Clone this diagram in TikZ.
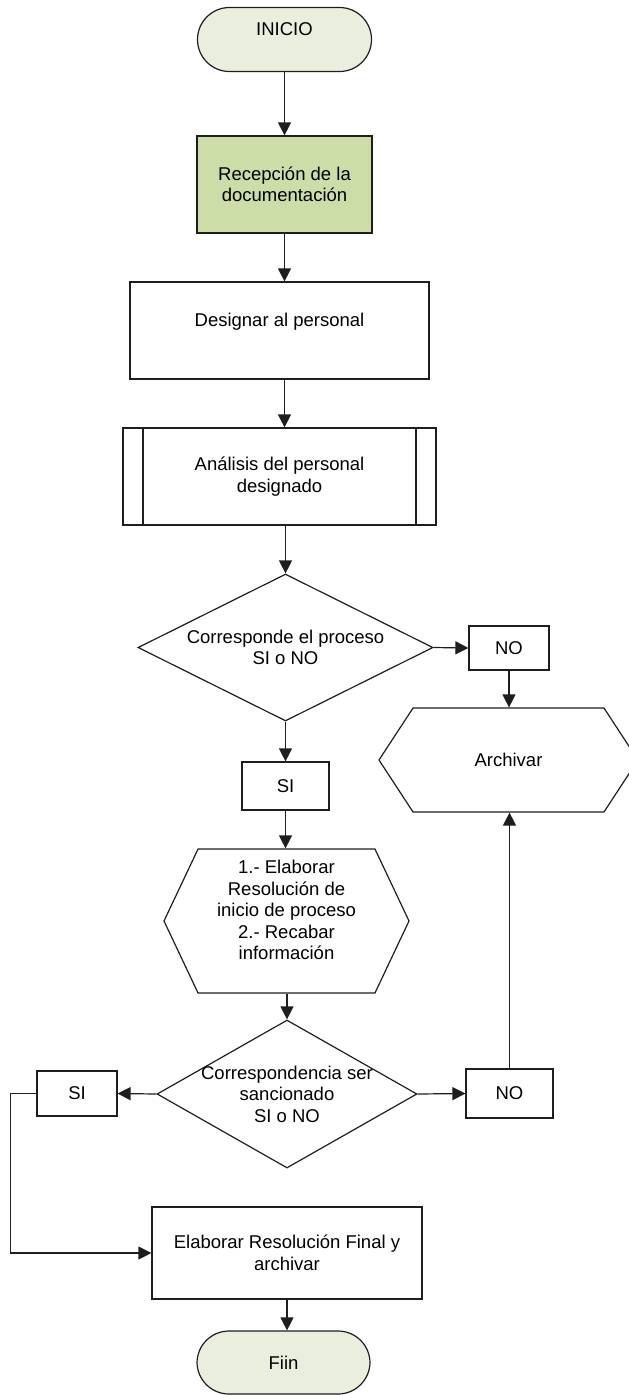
\documentclass[tikz,border=0pt]{standalone}
\usepackage{fontspec}
\setmainfont{Liberation Sans}
\usetikzlibrary{arrows.meta,shapes.geometric,shapes.symbols,positioning,calc}
\definecolor{TermFill}{RGB}{234,238,221}
\definecolor{StepGreen}{RGB}{205,221,168}
\definecolor{LineGray}{RGB}{30,30,30}

\begin{document}
\begin{tikzpicture}[x=1pt,y=-1pt,
    every node/.style={font=\fontsize{18.5}{21.5}\selectfont,align=center,
                       line width=1.2pt,draw=LineGray,inner sep=0pt},
    term/.style={rectangle,fill=TermFill,rounded corners=32pt,
                 minimum width=174pt,minimum height=64pt},
    box/.style={rectangle},
    subproc/.style={box,path picture={
        \draw[line width=1.2pt,LineGray]
          ([xshift=20pt]path picture bounding box.north west) --
          ([xshift=20pt]path picture bounding box.south west)
          ([xshift=-20pt]path picture bounding box.north east) --
          ([xshift=-20pt]path picture bounding box.south east);}},
    decision/.style={diamond,aspect=2},
    hexa/.style={signal,signal to=west and east},
    answer/.style={rectangle,minimum width=82pt,minimum height=46pt},
    arr/.style={-{Triangle[length=13pt,width=13pt]},line width=1.2pt,LineGray}
  ]
    \useasboundingbox (0,0) rectangle (629,1395);
    \clip (0,0) rectangle (629,1395);

    \node[term] (inicio) at (284.5,39.5) {INICIO\\\mbox{}};
    \node[box,fill=StepGreen,minimum width=175pt,minimum height=97pt] (recep) at (284.5,184.5)
      {Recepción de la\\documentación};
    \node[box,minimum width=299pt,minimum height=97pt] (designar) at (279.5,330.5)
      {Designar al personal\\\mbox{}};
    \node[subproc,minimum width=313pt,minimum height=97pt] (analisis) at (279.5,476.5)
      {Análisis del personal\\designado};
    \node[decision,minimum width=295pt,minimum height=147pt] (dec1) at (285.5,647.5)
      {Corresponde el proceso\\SI o NO};
    \node[answer,minimum width=80pt,minimum height=44pt] (no1) at (509,648) {NO};
    \node[hexa,signal pointer angle=113.6,minimum width=259pt,minimum height=104pt]
      (archivar) at (508.5,760) {Archivar};
    \node[answer,minimum width=87pt,minimum height=48pt] (si1) at (285.5,786) {SI};
    \node[hexa,signal pointer angle=129.4,minimum width=245pt,minimum height=144pt]
      (elab) at (286.5,921)
      {1.- Elaborar\\Resolución de\\inicio de proceso\\2.- Recabar\\información\\\mbox{}};
    \node[decision,aspect=1.757,inner sep=-7pt,minimum width=260pt,minimum height=148pt]
      (dec2) at (287,1094) {Correspondencia ser\\sancionado\\SI o NO};
    \node[answer,minimum width=80pt,minimum height=45pt] (si2) at (77,1093.5) {SI};
    \node[answer,minimum width=87pt,minimum height=49pt] (no2) at (509.5,1093.5) {NO};
    \node[box,minimum width=270pt,minimum height=92pt] (final) at (287,1253)
      {Elaborar Resolución Final y\\archivar};
    \node[term,minimum width=173pt,minimum height=63pt] (fin) at (283.5,1362.5) {Fiin};

    \draw[arr] (inicio.south) -- (recep.north);
    \draw[arr] (recep.south) -- (recep.south |- designar.north);
    \draw[arr] (designar.south -| inicio) -- (analisis.north -| inicio);
    \draw[arr] (analisis.south -| dec1) -- (dec1.north);
    \draw[arr] (dec1.east) -- (no1.west);
    \draw[arr] (no1.south) -- (no1.south |- archivar.north);
    \draw[arr] (dec1.south) -- (si1.north);
    \draw[arr] (si1.south) -- (si1.south |- elab.north);
    \draw[arr] (elab.south -| dec2) -- (dec2.north);
    \draw[arr] (dec2.west) -- (si2.east);
    \draw[arr] (dec2.east) -- (no2.west);
    \draw[arr] (no2.north) -- (no2.north |- archivar.south);
    \draw[arr] (si2.west) -- ++(-26,0) |- (final.west);
    \draw[arr] (final.south) -- (final.south |- fin.north);
  \end{tikzpicture}
\end{document}
